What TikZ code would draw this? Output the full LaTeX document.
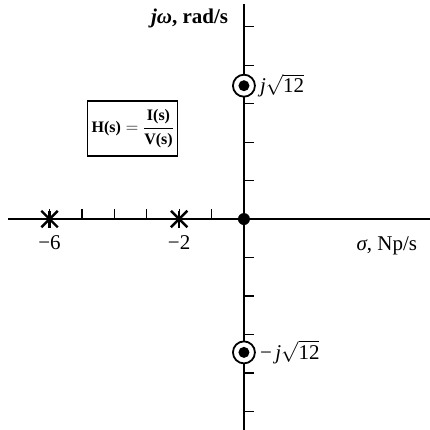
\documentclass[tikz,border=0pt]{standalone}
\usepackage{amsmath}
\usepackage{fontspec}
\setmainfont{Liberation Serif}
\usetikzlibrary{positioning,shapes.misc}

\tikzset{
  axis/.style={line width=1.3pt},
  tick/.style={line width=1.1pt},
  zero/.style={circle,draw,line width=1.8pt,minimum size=22pt,inner sep=0pt,fill=white,
    path picture={\fill[black] (path picture bounding box.center) circle (5.5pt);}},
  pole/.style={cross out,draw,line width=2.4pt,minimum size=14pt,inner sep=0pt},
  lbl/.style={font=\fontsize{21}{24}\selectfont,inner sep=1pt}
}

\begin{document}
\begin{tikzpicture}[x=32.4pt,y=38.5pt]
\useasboundingbox (-7.53,-5.48) rectangle (5.74,5.69);
% axes
\coordinate (O) at (0,0);
\coordinate (xl) at (-7.28,0);
\coordinate (xr) at (5.74,0);
\coordinate (yt) at (0,5.58);
\coordinate (yb) at (0,-5.48);
\draw[axis] (xl) -- (xr);
\draw[axis] (yb) -- (yt);
% ticks
\foreach \x in {-6,-5,-4,-3,-2,-1}
  \draw[tick] (\x,0) -- (\x,0.27);
\foreach \y in {-5,-4,-3,-2,-1,1,2,3,4,5}
  \draw[tick] (0,\y) -- (0.32,\y);
% poles and zeros
\node[pole] (p6) at (-6,0) {};
\node[pole] (p2) at (-2,0) {};
\draw[line width=2.4pt] (-6,-0.22) -- (-6,0.22);
\draw[line width=2.4pt] (-2,-0.22) -- (-2,0.22);
\fill (O) circle (6pt);
\node[zero] (z1) at (0,3.464) {};
\node[zero] (z2) at (0,-3.464) {};
% labels
\node[lbl,right=3pt of z1] (lz1) {\textit{j}$\sqrt{\text{12}}$};
\node[lbl,right=3pt of z2] (lz2) {−\,\textit{j}$\sqrt{\text{12}}$};
\node[lbl,below=7pt of p6] (l6) {−6};
\node[lbl,below=7pt of p2] (l2) {−2};
\node[lbl,anchor=east] (lw) at (-0.45,5.2) {\textbf{\textit{jω}, rad/s}};
\node[lbl,anchor=west] (ls) at (3.44,-0.7) {\textit{σ},\ Np/s};
\node[lbl,draw,line width=1.2pt,inner sep=0pt,minimum width=90pt,minimum height=55pt,
  font=\fontsize{16}{19}\selectfont] (hs) at (-3.43,2.35)
  {$\text{\textbf{H(s)}}=\dfrac{\text{\textbf{I(s)}}}{\text{\textbf{V(s)}}}$};
\end{tikzpicture}
\end{document}
